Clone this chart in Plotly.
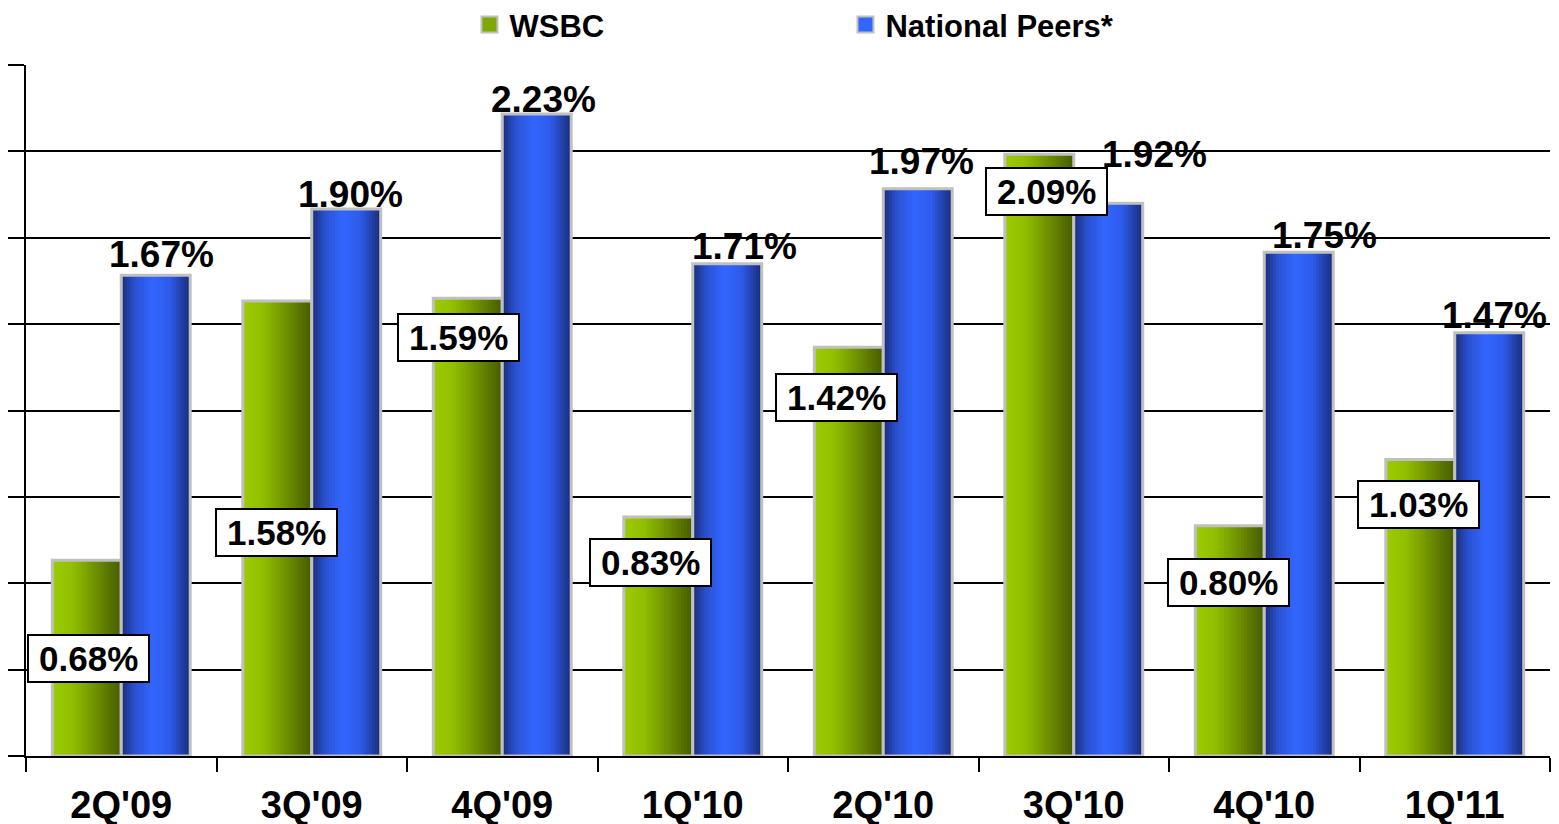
import plotly.graph_objects as go

quarters = ["2Q'09", "3Q'09", "4Q'09", "1Q'10", "2Q'10", "3Q'10", "4Q'10", "1Q'11"]
wsbc = [0.68, 1.58, 1.59, 0.83, 1.42, 2.09, 0.80, 1.03]
peers = [1.67, 1.90, 2.23, 1.71, 1.97, 1.92, 1.75, 1.47]
wsbc_labels = ["0.68%", "1.58%", "1.59%", "0.83%", "1.42%", "2.09%", "0.80%", "1.03%"]
peer_labels = ["1.67%", "1.90%", "2.23%", "1.71%", "1.97%", "1.92%", "1.75%", "1.47%"]

# label placement tweaks (pixels): (dx, dy) relative to the bar
wsbc_nudge = [(1, -98), (-1, -231), (-10, -39), (-8, -45), (-13, -50), (7, -37), (-2, -57), (-2, -45)]
peer_nudge = [(5, 21), (4, 14), (6, 14), (17, 17), (3, 27), (46, 49), (25, 17), (5, 17)]

FONT = "Liberation Sans"
BAR_W = 0.362
N_STRIPS = 24

green_stops = [(0.0, (156, 204, 0)), (0.3, (145, 190, 0)), (1.0, (70, 92, 0))]
blue_stops = [(0.0, (26, 44, 120)), (0.2, (42, 82, 210)), (0.45, (51, 102, 255)),
              (0.7, (46, 92, 235)), (1.0, (26, 44, 120))]


def grad(stops, t):
    for (t0, c0), (t1, c1) in zip(stops, stops[1:]):
        if t <= t1:
            f = (t - t0) / (t1 - t0)
            c = [round(a + (b - a) * f) for a, b in zip(c0, c1)]
            return "rgb(%d,%d,%d)" % tuple(c)
    return "rgb(%d,%d,%d)" % stops[-1][1]


fig = go.Figure()

# each bar is a stack of overlapping strips to fake the horizontal gradient
for vals, stops, start in [(wsbc, green_stops, -BAR_W), (peers, blue_stops, 0.0)]:
    step = BAR_W / N_STRIPS
    for k in range(N_STRIPS):
        t = (k + 0.5) / N_STRIPS
        fig.add_trace(go.Bar(
            x=quarters, y=vals, offset=start + k * step, width=BAR_W - k * step,
            marker=dict(color=grad(stops, t), line=dict(width=0)),
            showlegend=False, hoverinfo="skip"))
    fig.add_trace(go.Bar(
        x=quarters, y=vals, offset=start, width=BAR_W,
        marker=dict(color="rgba(0,0,0,0)", line=dict(color="#C0C0C0", width=3)),
        showlegend=False, hoverinfo="skip"))

fig.add_trace(go.Scatter(x=[None], y=[None], name="WSBC", mode="markers",
                         marker=dict(symbol="square", size=16, color="#7FA800",
                                     line=dict(color="#C0C0C0", width=2))))
fig.add_trace(go.Scatter(x=[None], y=[None], name="National Peers*", mode="markers",
                         marker=dict(symbol="square", size=16, color="#3366FF",
                                     line=dict(color="#C0C0C0", width=2))))

annotations = []
for q, v, txt, (dx, dy) in zip(quarters, wsbc, wsbc_labels, wsbc_nudge):
    annotations.append(dict(
        x=q, y=v, xref="x", yref="y", text="\u2009" + txt + "\u2009", showarrow=False,
        xshift=-34 + dx, yshift=dy, xanchor="center", yanchor="middle",
        font=dict(family=FONT, size=35, color="black", weight="bold"),
        bgcolor="white", bordercolor="black", borderwidth=2, borderpad=3))
for q, v, txt, (dx, dy) in zip(quarters, peers, peer_labels, peer_nudge):
    annotations.append(dict(
        x=q, y=v, xref="x", yref="y", text=txt, showarrow=False,
        xshift=35 + dx, yshift=dy, xanchor="center", yanchor="middle",
        font=dict(family=FONT, size=37, color="black", weight="bold")))

# the page adds an 8px body margin, so the margins are reduced to compensate
fig.update_layout(
    width=1559, height=824,
    margin=dict(l=18, r=17, t=57, b=76, autoexpand=False),
    paper_bgcolor="white", plot_bgcolor="white",
    barmode="overlay",
    font=dict(family=FONT, color="black"),
    annotations=annotations,
    legend=dict(orientation="h", x=0.291, y=1.058, xanchor="left", yanchor="middle",
                entrywidth=331, entrywidthmode="pixels",
                font=dict(family=FONT, size=31, color="black", weight="bold"),
                bgcolor="rgba(0,0,0,0)"),
    xaxis=dict(showline=True, linecolor="black", linewidth=2, automargin=False,
               ticks="outside", tickson="boundaries", ticklen=14, tickcolor="black", tickwidth=1.5,
               ticklabelstandoff=14,
               tickfont=dict(family=FONT, size=38, color="black", weight="bold"),
               showgrid=False, fixedrange=True),
    yaxis=dict(range=[0, 2.4], dtick=0.3, showticklabels=False, automargin=False,
               showline=True, linecolor="black", linewidth=2,
               ticks="outside", ticklen=16, tickcolor="black", tickwidth=1.5,
               showgrid=True, gridcolor="black", gridwidth=1.5, zeroline=False),
)

fig.write_html("out.html")
